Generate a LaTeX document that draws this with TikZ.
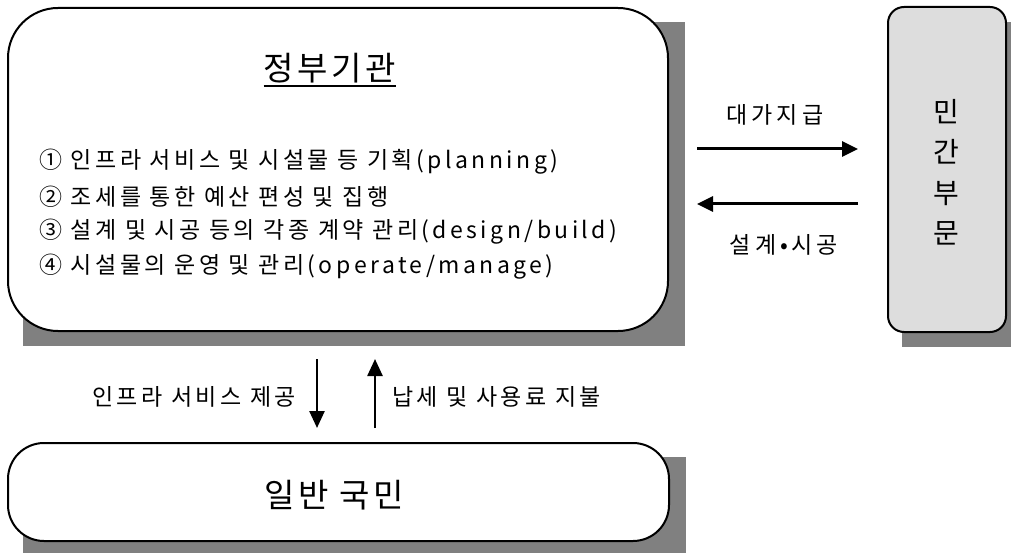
\documentclass[tikz,border=0pt]{standalone}
\usepackage{fontspec}
\setmainfont{Noto Sans CJK KR}
\newfontfamily\krs[LetterSpace=15]{Noto Sans CJK KR}
\newfontfamily\kra[LetterSpace=17]{Noto Sans CJK KR}
\newfontfamily\krb[LetterSpace=11]{Noto Sans CJK KR}
\usetikzlibrary{arrows.meta,calc}
\definecolor{shadowgray}{HTML}{808080}
\definecolor{boxgray}{HTML}{DDDDDD}
\pgfdeclarelayer{bg}
\pgfsetlayers{bg,main}
\begin{document}
\begin{tikzpicture}[x=1pt,y=-1pt,
  box/.style={draw=black, fill=white, line width=2pt, rectangle, inner sep=0pt},
  shd/.style={fill=shadowgray},
  small/.style={font=\krs\fontsize{23}{28}\selectfont, inner sep=0pt},
  albl/.style={font=\kra\fontsize{23}{28}\selectfont, inner sep=0pt},
  big/.style={font=\krb\fontsize{33}{38}\selectfont, inner sep=0pt},
  arr/.style={line width=3pt, -{Triangle[length=16pt,width=15pt]}},
  varr/.style={line width=2.5pt, -{Triangle[length=17pt,width=15pt]}}
]
\useasboundingbox (0,0) rectangle (1011,553);
% boxes
\node[box, minimum width=660pt, minimum height=323pt, rounded corners=50pt] (main) at (338,169.5) {};
\node[box, fill=boxgray, minimum width=118pt, minimum height=325pt, rounded corners=16pt] (priv) at (947,169.5) {};
\node[box, minimum width=661pt, minimum height=98pt, rounded corners=36pt] (pub) at (338.5,492) {};
% shadows
\begin{pgfonlayer}{bg}
\fill[shd] ($(main.north west)+(16,15)$) rectangle ($(main.south east)+(16,14)$);
\fill[shd] ($(priv.north west)+(15,16)$) rectangle ($(priv.south east)+(16,14)$);
\fill[shd] ($(pub.north west)+(16,15)$) rectangle ($(pub.south east)+(16,16)$);
\end{pgfonlayer}
% main texts
\node[big] (title) at (330,68) {정부기관};
\draw[line width=2pt] ([yshift=-6pt]title.base west) -- ([yshift=-6pt]title.base east);
\node[small, anchor=west] (i1) at (39,162) {① 인프라 서비스 및 시설물 등 기획(planning)};
\node[small, anchor=west] (i2) at (39,197) {② 조세를 통한 예산 편성 및 집행};
\node[small, anchor=west] (i3) at (39,232) {③ 설계 및 시공 등의 각종 계약 관리(design/build)};
\node[small, anchor=west] (i4) at (39,267) {④ 시설물의 운영 및 관리(operate/manage)};
% private
\node[align=center, inner sep=0pt, font=\krb\fontsize{28}{40.5}\selectfont] (ptext) at (946,172) {민\\간\\부\\문};
% horizontal arrows
\coordinate (h1) at (0,149);
\coordinate (h2) at (0,204);
\draw[arr, shorten <=28pt, shorten >=29pt] (main.east |- h1) -- (priv.west |- h1);
\draw[arr, shorten <=29pt, shorten >=28pt] (priv.west |- h2) -- (main.east |- h2);
\node[albl] (pay) at (775,115) {대가지급};
\node[albl] (dsg) at (784,245) {설계•시공};
% vertical arrows
\coordinate (v1) at (317,0);
\coordinate (v2) at (375,0);
\draw[varr, shorten <=27pt, shorten >=14pt] (v1 |- main.south) -- (v1 |- pub.north);
\draw[varr, shorten <=14pt, shorten >=27pt] (v2 |- pub.north) -- (v2 |- main.south);
\node[small, anchor=east] (l1) at (296,397) {인프라 서비스 제공};
\node[small, anchor=west] (l2) at (392,397) {납세 및 사용료 지불};
% public
\node[big] (ptitle) at (334,495) {일반 국민};
\end{tikzpicture}
\end{document}
